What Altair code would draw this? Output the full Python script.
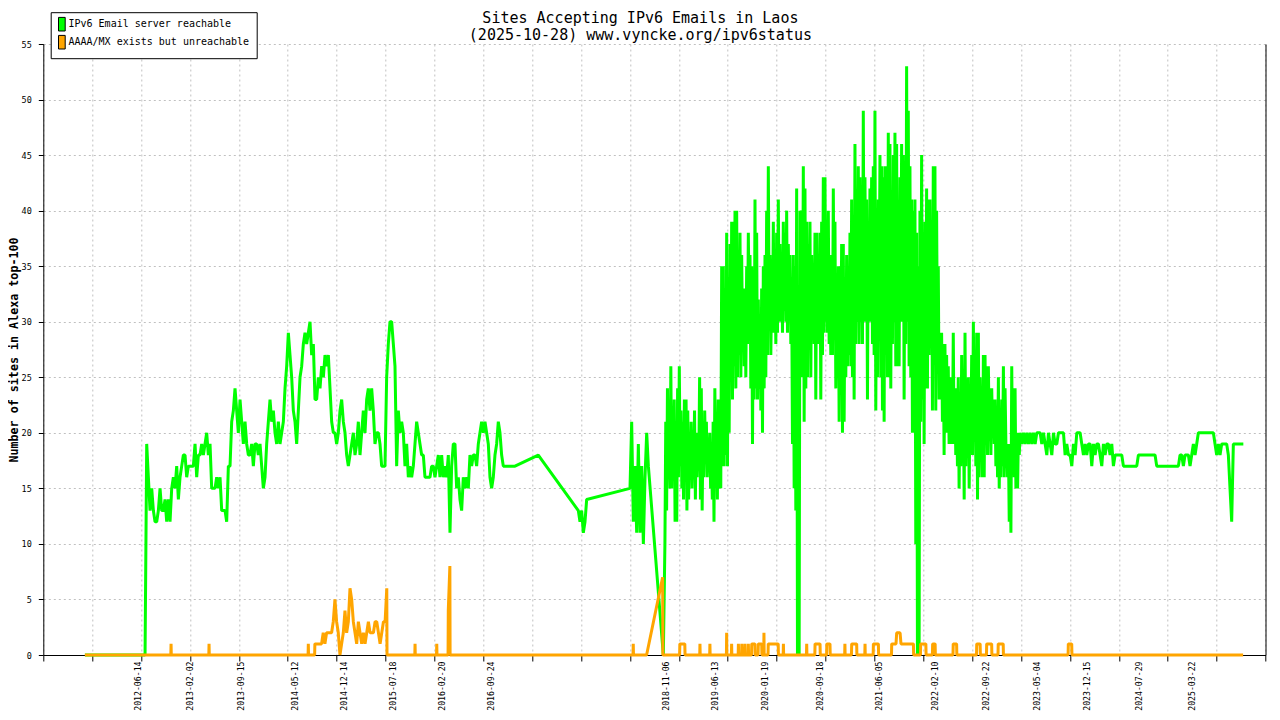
import altair as alt
import pandas as pd

FONT = "DejaVu Sans Mono"
GREEN = "#00ff00"
ORANGE = "#ffa500"
GRID = "#c0c0c0"

TITLE_LINES = ["Sites Accepting IPv6 Emails in Laos", "(2025-10-28) www.vyncke.org/ipv6status"]
SERIES = ["IPv6 Email server reachable", "AAAA/MX exists but unreachable"]
Y_TITLE = "Number of sites in Alexa top-100"
Y_TICKS = [0, 5, 10, 15, 20, 25, 30, 35, 40, 45, 50, 55]

# the time axis starts on this day; every position below is a day count from it
START_DAY = "2011-04-22"
AXIS_SPAN_DAYS = 5405
GRID_STEPS = 25

DATE_LABELS = [
    "2012-06-14", "2013-02-02", "2013-09-15", "2014-05-12", "2014-12-14",
    "2015-07-18", "2016-02-20", "2016-09-24", "2018-11-06", "2019-06-13",
    "2020-01-19", "2020-09-18", "2021-06-05", "2022-02-10", "2022-09-22",
    "2023-05-04", "2023-12-15", "2024-07-29", "2025-03-22",
]

# reachable, roughly weekly readings
GREEN_2012_2016 = [
    19, 16, 13, 15, 13, 12, 12, 13, 15, 13,
    13, 14, 12, 14, 12, 15, 16, 15, 17, 14,
    16, 17, 18, 18, 16, 17, 17, 17, 17, 19,
    16, 18, 18, 19, 18, 19, 20, 18, 19, 15,
    15, 15, 16, 15, 16, 13, 13, 13, 12, 17,
    17, 21, 22, 24, 22, 20, 23, 21, 19, 21,
    19, 18, 18, 19, 17, 19, 19, 18, 19, 17,
    15, 16, 19, 21, 23, 21, 22, 20, 19, 21,
    19, 20, 21, 24, 26, 29, 27, 25, 22, 21,
    19, 22, 25, 26, 28, 29, 28, 29, 30, 27,
    28, 23, 23, 25, 24, 26, 25, 27, 26, 27,
    24, 21, 20, 20, 19, 20, 22, 23, 21, 20,
    18, 17, 18, 19, 20, 18, 19, 21, 18, 20,
    22, 20, 23, 24, 22, 24, 22, 19, 20, 20,
    19, 17, 17, 17, 25, 28, 30, 30, 28, 26,
    17, 22, 20, 21, 20, 17, 19, 16, 17, 16,
    17, 19, 21, 20, 19, 18, 18, 16, 16, 16,
    16, 17, 17, 16, 17, 18, 16, 18, 16, 17,
    16, 18, 11, 17, 19, 19, 15, 16, 14, 13,
    16, 15, 16, 15, 18, 17, 18, 18, 17, 19,
    20, 21, 20, 21, 20, 19, 16, 15, 16, 18,
    19, 21, 20, 18, 17,
]
GREEN_2017 = [13, 12, 13, 11, 12, 14]
GREEN_2018 = [15, 21, 12, 17, 11, 19, 11, 17, 10, 16, 20, 17]
GREEN_2018_2019 = [
    10, 21, 13, 24, 17, 20, 15, 26, 15, 22, 17, 23, 12, 20, 12, 24, 16,
    26, 17, 22, 15, 21, 14, 23, 16, 23, 13, 22, 14, 20, 16, 21, 15,
    19, 16, 22, 14, 20, 16, 19, 17, 25, 14, 24, 13, 20, 16, 22, 18,
    21, 16, 19, 17, 20, 15, 18, 14, 21, 12, 24, 17, 20, 14, 23, 15, 21, 15,
]
GREEN_2019_2022 = [
    35, 17, 35, 17, 33, 18, 38, 17, 34, 20, 37, 25, 39, 23, 39, 26, 40, 24, 40, 25,
    36, 27, 38, 25, 36, 29, 33, 26, 33, 25, 35, 28, 38, 31, 36, 24, 35, 19, 33, 23,
    41, 24, 38, 23, 32, 24, 30, 22, 33, 20, 35, 24, 36, 25, 40, 27, 44, 30, 36, 27,
    33, 29, 39, 29, 36, 28, 38, 29, 41, 30, 37, 30, 36, 29, 39, 31, 38, 30, 40, 29,
    37, 31, 36, 28, 33, 19, 36, 15, 35, 13, 42, 0, 33, 0, 40, 30, 40, 25, 44, 21,
    42, 24, 39, 25, 37, 29, 39, 25, 36, 29, 33, 28, 38, 23, 38, 28, 36, 28, 38, 23,
    39, 27, 43, 29, 43, 30, 37, 29, 40, 28, 33, 27, 36, 27, 42, 29, 39, 24, 34, 25,
    35, 21, 35, 25, 37, 20, 37, 21, 33, 25, 36, 26, 34, 27, 38, 26, 41, 25, 39, 23,
    46, 28, 41, 30, 44, 28, 43, 30, 41, 28, 49, 30, 43, 31, 41, 23, 39, 31, 42, 30,
    43, 28, 44, 27, 49, 22, 39, 25, 41, 30, 45, 25, 44, 22, 43, 21, 44, 30, 44, 25,
    47, 25, 46, 24, 41, 28, 45, 30, 47, 26, 46, 26, 40, 26, 43, 30, 46, 30, 45, 23,
    41, 28, 53, 30, 49, 26, 44, 25, 41, 20, 40, 20, 41, 10, 38, 0, 35, 0, 40, 21,
    45, 23, 38, 19, 39, 24, 42, 24, 41, 27, 41, 28, 39, 22, 44, 30, 44, 22, 40, 27,
    35, 23, 29, 23, 29, 21, 28, 18, 28, 20, 27, 20, 26, 19, 25, 19, 24, 19, 29, 19,
    24, 18, 24, 17, 25, 15,
]
GREEN_2022 = [
    23, 17, 27, 19, 23, 14, 29, 17, 24, 18, 25, 15, 24, 19, 27, 18, 30, 20,
    25, 17, 29, 14, 29, 16, 25, 19, 22, 16, 27, 16, 27, 19, 26, 18, 26, 20,
    24, 18, 24, 20, 23, 19, 23, 17, 22, 16, 25, 15, 21, 16, 23, 17, 26, 16,
    24, 19, 19, 16, 19, 12, 19, 11, 26, 17, 24, 16, 24, 15, 20, 15, 20, 18,
]
GREEN_2022_2025 = [
    20, 19, 20, 19, 20, 19, 20, 19, 20, 19, 20, 20, 20, 19, 20, 19, 18, 20,
    19, 18, 20, 19, 19, 20, 20, 20, 20, 18, 19, 18, 18, 17, 19, 18, 20, 20,
    20, 19, 18, 19, 18, 19, 19, 17, 19, 18, 19, 19, 18, 17, 19, 18, 19, 19,
    18, 19, 17, 18, 18, 18, 18, 18,
    17, 17, 17, 17, 17, 17, 17, 17, 17,
    18, 18, 18, 18, 18, 18, 18, 18, 18, 18, 18,
    17, 17, 17, 17, 17, 17, 17, 17, 17, 17, 17, 17, 17, 17,
    18, 18, 17, 18, 18, 18, 17, 18, 19, 18, 19,
    20, 20, 20, 20, 20, 20, 20, 20, 20, 20,
    19, 18, 19, 18, 19, 19, 19, 19, 18, 15, 12,
    19, 19, 19, 19, 19, 19, 19,
]

# (first day, last day, readings spread evenly between them)
GREEN_SEGMENTS = [
    (184, 450, [0, 0]),
    (457.3, 2034.3, GREEN_2012_2016),
    (2086, 2086, [17]),
    (2189, 2189, [18]),
    (2366, 2403, GREEN_2017),
    (2594.6, 2675.8, GREEN_2018),
    (2742, 2742, [0]),
    (2749, 2996, GREEN_2018_2019),
    (3000, 4050, GREEN_2019_2022),
    (4054, 4316, GREEN_2022),
    (4320, 5307, GREEN_2022_2025),
]

# unreachable: zero except for these bursts
ORANGE_FIRST_DAY = 184
ORANGE_LAST_DAY = 5306
ORANGE_2014 = [
    1, 1, 1, 1, 1, 2, 1, 2, 2, 2, 2, 3, 5, 3, 2, 0, 1, 2, 4, 2, 3, 6,
    5, 3, 2, 1, 3, 2, 1, 2, 1, 2, 3, 2, 2, 2, 3, 3, 2, 1, 2, 3, 3, 6,
]
ORANGE_SEGMENTS = [
    (565, 565, [1]), (733, 733, [1]), (1172, 1172, [1]),
    (1201, 1519, ORANGE_2014),
    (1644, 1644, [1]), (1740, 1740, [1]), (1791, 1798, [4, 8]),
    (2609, 2609, [1]), (2668, 2739, [0, 7]),
    (2815, 2837, [1, 1]), (2904, 2904, [1]), (2948, 2948, [1]),
    (3022, 3022, [2]), (3044, 3044, [1]), (3074, 3074, [1]), (3089, 3089, [1]),
    (3103, 3103, [1]), (3118, 3118, [1]), (3133, 3147, [1, 1]), (3162, 3177, [1, 1]),
    (3187, 3187, [2]), (3206, 3250, [1, 1]), (3273, 3273, [1]), (3376, 3376, [1]),
    (3413, 3435, [1, 1]), (3465, 3479, [1, 1]), (3545, 3545, [1]), (3575, 3597, [1, 1]),
    (3634, 3634, [1]), (3671, 3693, [1, 1]), (3752, 3771, [1, 1]), (3774, 3789, [2, 2]),
    (3793, 3848, [1, 1]), (3880, 3903, [1, 1]), (3933, 3944, [1, 1]), (4024, 4039, [1, 1]),
    (4128, 4143, [1, 1]), (4172, 4194, [1, 1]), (4223, 4245, [1, 1]), (4533, 4548, [1, 1]),
]


def _spread(first_day, last_day, values):
    if len(values) == 1:
        return [(first_day, values[0])]
    step = (last_day - first_day) / (len(values) - 1)
    return [(first_day + i * step, v) for i, v in enumerate(values)]


def _green_rows():
    rows = []
    for first_day, last_day, values in GREEN_SEGMENTS:
        rows += _spread(first_day, last_day, values)
    return rows


def _orange_rows():
    rows = [(ORANGE_FIRST_DAY, 0)]
    prev_day = ORANGE_FIRST_DAY
    for first_day, last_day, values in ORANGE_SEGMENTS:
        if first_day - prev_day > 4:
            rows += [(prev_day + 1, 0), (first_day - 1, 0)]
        rows += _spread(first_day, last_day, values)
        prev_day = last_day
    rows += [(prev_day + 1, 0), (ORANGE_LAST_DAY, 0)]
    return rows


def _frame(rows, series):
    frame = pd.DataFrame(rows, columns=["day", "value"])
    frame["date"] = pd.Timestamp(START_DAY) + pd.to_timedelta(frame["day"], unit="D")
    frame["series"] = series
    return frame.sort_values("day")


def _dt(ts):
    ts = pd.Timestamp(ts)
    return alt.DateTime(year=ts.year, month=ts.month, date=ts.day, hours=ts.hour)


green_frame = _frame(_green_rows(), SERIES[0])
orange_frame = _frame(_orange_rows(), SERIES[1])
key_frame = pd.concat([green_frame.head(1), orange_frame.head(1)])

start = pd.Timestamp(START_DAY)
grid_dates = [_dt(start + pd.Timedelta(days=AXIS_SPAN_DAYS * k / GRID_STEPS)) for k in range(GRID_STEPS + 1)]
label_dates = [_dt(d) for d in DATE_LABELS]

x_scale = alt.Scale(domain=[grid_dates[0], grid_dates[-1]], nice=False)
y_scale = alt.Scale(domain=[0, 55], nice=False)

green = alt.Chart(green_frame).mark_line(color=GREEN, strokeWidth=3, strokeJoin="bevel").encode(
    x=alt.X("date:T", scale=x_scale, axis=alt.Axis(
        values=grid_dates, labels=False, ticks=True, tickSize=6, tickColor="black",
        domainColor="black", grid=True, gridColor=GRID, gridDash=[2, 3], title=None,
    )),
    y=alt.Y("value:Q", scale=y_scale, axis=alt.Axis(
        values=Y_TICKS, tickSize=5, tickColor="black", domainColor="black",
        grid=True, gridColor=GRID, gridDash=[2, 3],
        labelFont=FONT, labelFontSize=8.5, labelColor="black", labelPadding=7,
        title=Y_TITLE, titleFont=FONT, titleFontSize=11.7, titleFontWeight="bold",
        titleColor="black", titlePadding=1.5,
    )),
)

orange = alt.Chart(orange_frame).mark_line(color=ORANGE, strokeWidth=3, strokeJoin="bevel").encode(
    x=alt.X("date:T", scale=x_scale, axis=alt.Axis(
        orient="bottom", values=label_dates, format="%Y-%m-%d", labelAngle=270,
        labelFont=FONT, labelFontSize=8.2, labelColor="black", labelPadding=6,
        labelOverlap=False, labelFlush=False, ticks=False, domain=False, grid=False, title=None,
    )),
    y=alt.Y("value:Q", scale=y_scale, axis=alt.Axis(
        orient="right", labels=False, ticks=False, grid=False, domainColor="black", title=None,
    )),
)

key = alt.Chart(key_frame).mark_point(filled=True, opacity=0).encode(
    x=alt.X("date:T", scale=x_scale, axis=None),
    y=alt.Y("value:Q", scale=y_scale, axis=None),
    fill=alt.Fill("series:N", scale=alt.Scale(domain=SERIES, range=[GREEN, ORANGE]), legend=alt.Legend(
        orient="none", legendX=7.4, legendY=-31.8, direction="vertical", title=None,
        symbolType="M-2.1,-3.4H1.25V3.4H-2.1Z", symbolSize=16, symbolStrokeColor="black",
        symbolStrokeWidth=1, symbolOpacity=1, labelFont=FONT, labelFontSize=10,
        labelColor="black", labelOffset=0.8, labelLimit=300, padding=7, rowPadding=0,
        fillColor="white", strokeColor="black",
    )),
)

chart = alt.layer(green, orange, key).resolve_axis(x="independent", y="independent").properties(
    width=1222.2,
    height=611,
    autosize="none",
    padding={"left": 35.3, "top": 36, "right": 6, "bottom": 57},
    title=alt.TitleParams(
        TITLE_LINES, font=FONT, fontSize=15, fontWeight="normal", color="black",
        anchor="middle", frame="group", dx=-14, dy=37.5, offset=6, lineHeight=17.5,
    ),
).configure_view(strokeWidth=0)

chart.save("out.html", embed_options={"renderer": "svg", "actions": False})
